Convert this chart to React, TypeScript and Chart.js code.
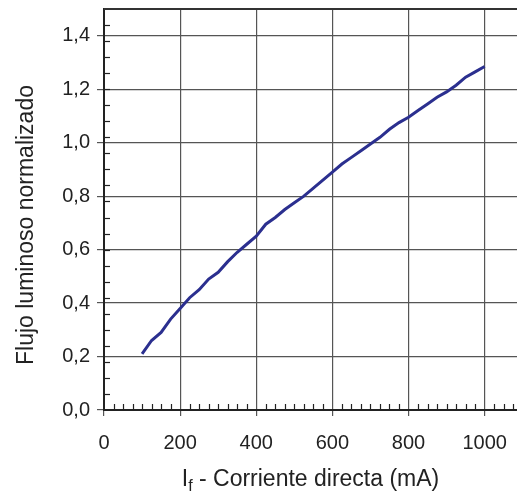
import React, { useEffect, useRef } from "react";
import { Chart, registerables } from "chart.js";

Chart.register(...registerables);

const currentMA = [100, 125, 150, 175, 200, 225, 250, 275, 300, 325, 350, 375, 400, 425, 450, 475, 500, 525, 550, 575, 600, 625, 650, 675, 700, 725, 750, 775, 800, 825, 850, 875, 900, 925, 950, 975, 1000];
const fluxNorm = [0.21, 0.26, 0.29, 0.34, 0.38, 0.42, 0.45, 0.49, 0.515, 0.555, 0.59, 0.62, 0.65, 0.695, 0.72, 0.75, 0.775, 0.80, 0.83, 0.86, 0.89, 0.92, 0.945, 0.97, 0.995, 1.02, 1.05, 1.075, 1.095, 1.12, 1.145, 1.17, 1.19, 1.215, 1.245, 1.265, 1.285];
const xTicks = [0, 200, 400, 600, 800, 1000];
const yTicks = [0, 0.2, 0.4, 0.6, 0.8, 1.0, 1.2, 1.4];
const yTitle = "Flujo luminoso normalizado";
const xTitleMain = "I";
const xTitleSub = "f";
const xTitleRest = " - Corriente directa (mA)";

const FONT = '"Liberation Sans", Arial, sans-serif';

const decorPlugin = {
  id: "decor",
  afterDatasetsDraw(chart: any) {
    const { ctx, chartArea, scales } = chart;
    const xs = scales.x;
    const ys = scales.y;
    ctx.save();
    ctx.strokeStyle = "#222";
    ctx.lineWidth = 1.2;
    for (let v = 25; v < xs.max; v += 25) {
      if (v % 200 === 0) continue;
      const px = Math.round(xs.getPixelForValue(v)) + 0.5;
      ctx.beginPath();
      ctx.moveTo(px, chartArea.bottom);
      ctx.lineTo(px, chartArea.bottom - 6);
      ctx.stroke();
    }
    for (let i = 1; i * 0.06 < ys.max; i++) {
      const py = Math.round(ys.getPixelForValue(i * 0.06)) + 0.5;
      ctx.beginPath();
      ctx.moveTo(chartArea.left, py);
      ctx.lineTo(chartArea.left + 6, py);
      ctx.stroke();
    }
    ctx.lineWidth = 2;
    ctx.strokeStyle = "#333";
    ctx.beginPath();
    ctx.moveTo(chartArea.left, chartArea.top);
    ctx.lineTo(chartArea.right, chartArea.top);
    ctx.stroke();
    ctx.restore();
  },
  afterDraw(chart: any) {
    const { ctx, chartArea } = chart;
    ctx.save();
    ctx.fillStyle = "#222";
    ctx.textBaseline = "alphabetic";
    const mainFont = `23px ${FONT}`;
    const subFont = `16px ${FONT}`;
    ctx.font = mainFont;
    const w1 = ctx.measureText(xTitleMain).width;
    const w3 = ctx.measureText(xTitleRest).width;
    ctx.font = subFont;
    const w2 = ctx.measureText(xTitleSub).width;
    const total = w1 + w2 + w3;
    let x = (chartArea.left + chartArea.right) / 2 - total / 2;
    const base = 486;
    ctx.textAlign = "left";
    ctx.font = mainFont;
    ctx.fillText(xTitleMain, x, base);
    x += w1;
    ctx.font = subFont;
    ctx.fillText(xTitleSub, x, base + 5);
    x += w2;
    ctx.font = mainFont;
    ctx.fillText(xTitleRest, x, base);
    ctx.translate(33, 225);
    ctx.rotate(-Math.PI / 2);
    ctx.textAlign = "center";
    ctx.font = mainFont;
    ctx.fillText(yTitle, 0, 0);
    ctx.restore();
  },
};

const zeroPad = (s: any) => {
  s.paddingTop = 0;
  s.paddingBottom = 0;
  s.paddingLeft = 0;
  s.paddingRight = 0;
};

export default function App() {
  const ref = useRef<HTMLCanvasElement>(null);
  useEffect(() => {
    if (!ref.current) return;
    const chart = new Chart(ref.current, {
      type: "line",
      data: {
        datasets: [
          {
            data: currentMA.map((x, i) => ({ x, y: fluxNorm[i] })),
            borderColor: "#2b2f8f",
            borderWidth: 3,
            pointRadius: 0,
            tension: 0,
            fill: false,
          },
        ],
      },
      options: {
        animation: false,
        responsive: false,
        maintainAspectRatio: false,
        layout: { padding: { top: 9, right: 0, left: 0, bottom: 0 } },
        plugins: { legend: { display: false }, tooltip: { enabled: false } },
        scales: {
          x: {
            type: "linear",
            min: 0,
            max: 1085,
            afterBuildTicks: (s: any) => {
              s.ticks = xTicks.map((v) => ({ value: v }));
            },
            afterFit: (s: any) => {
              s.height = 84;
              zeroPad(s);
            },
            grid: { color: "#555", lineWidth: 1.2, tickLength: 6, drawTicks: true },
            border: { display: true, color: "#222", width: 2 },
            ticks: {
              font: { family: FONT, size: 20 },
              color: "#222",
              padding: 15,
              maxRotation: 0,
              callback: (v: any) => String(v),
            },
          },
          y: {
            type: "linear",
            min: 0,
            max: 1.5,
            afterBuildTicks: (s: any) => {
              s.ticks = yTicks.map((v) => ({ value: v }));
            },
            afterFit: (s: any) => {
              s.width = 104;
              zeroPad(s);
            },
            grid: { color: "#555", lineWidth: 1.2, tickLength: 7, drawTicks: true },
            border: { display: true, color: "#222", width: 2 },
            ticks: {
              font: { family: FONT, size: 20 },
              color: "#222",
              padding: 7,
              callback: (v: any) => Number(v).toFixed(1).replace(".", ","),
            },
          },
        },
      },
      plugins: [decorPlugin],
    });
    return () => chart.destroy();
  }, []);
  return (
    <div style={{ position: "absolute", left: 0, top: 0, width: 517, height: 494, background: "#fff" }}>
      <canvas ref={ref} width={517} height={494} />
    </div>
  );
}
